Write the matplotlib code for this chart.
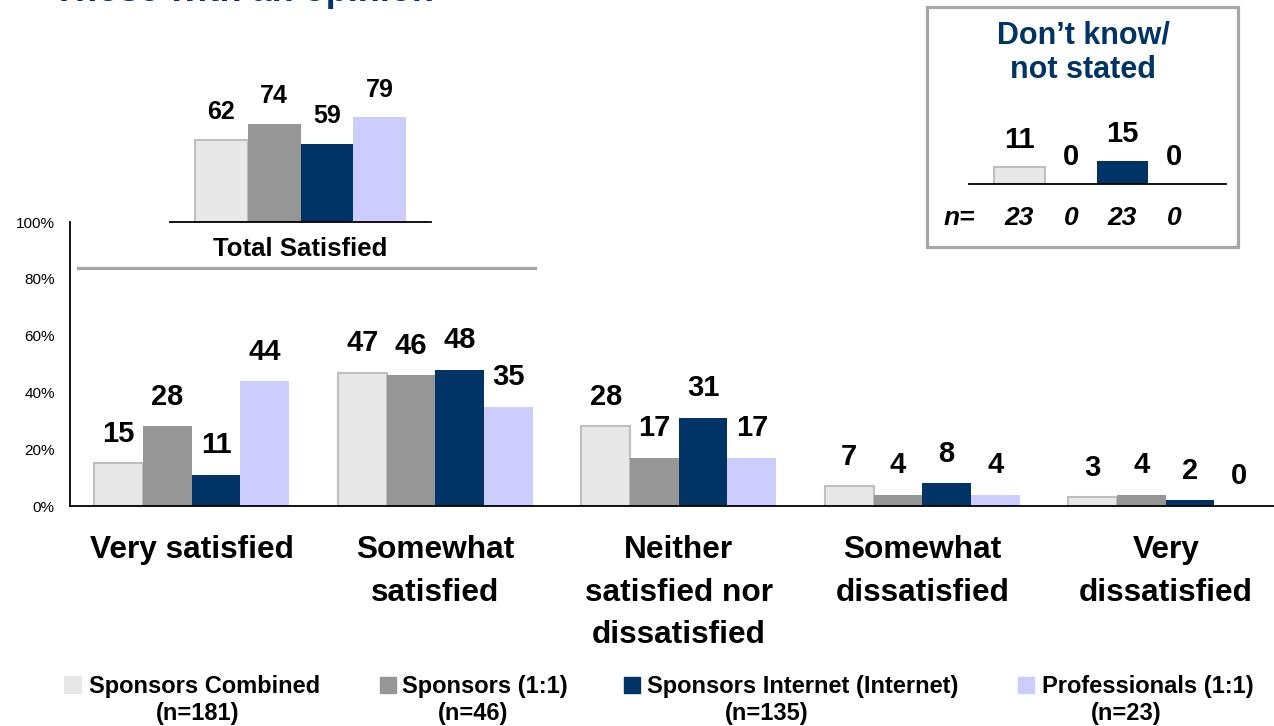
import matplotlib
matplotlib.use('Agg')
import matplotlib.pyplot as plt
from matplotlib.patches import Rectangle
from matplotlib.lines import Line2D
import numpy as np

plt.rcParams['font.family'] = ['Liberation Sans', 'DejaVu Sans']

W, H = 1274, 726

categories = ['Very satisfied', 'Somewhat\nsatisfied', 'Neither\nsatisfied nor\ndissatisfied',
              'Somewhat\ndissatisfied', 'Very\ndissatisfied']
series = ['Sponsors Combined', 'Sponsors (1:1)', 'Sponsors Internet (Internet)', 'Professionals (1:1)']
sample_sizes = ['(n=181)', '(n=46)', '(n=135)', '(n=23)']
colors = ['#E8E8E8', '#969696', '#003366', '#CCCCFF']

combined = [15, 47, 28, 7, 3]
sponsors_11 = [28, 46, 17, 4, 4]
sponsors_web = [11, 48, 31, 8, 2]
professionals = [44, 35, 17, 4, 0]

total_satisfied = [62, 74, 59, 79]
dont_know = [11, 0, 15, 0]
dont_know_n = ['23', '0', '23', '0']

NAVY = '#003366'
GREY_EDGE = '#BFBFBF'
FRAME = '#A6A6A6'


def fbox(x0, y0, x1, y1):
    # pixel box (top-left origin) -> figure fraction rect
    return [x0 / W, 1 - y1 / H, (x1 - x0) / W, (y1 - y0) / H]


def fx(x):
    return x / W


def fy(y):
    return 1 - y / H


def bar_style(i):
    if i == 0:
        return dict(color=colors[0], edgecolor=GREY_EDGE, linewidth=1.5)
    return dict(color=colors[i], edgecolor='none')


fig = plt.figure(figsize=(W / 100, H / 100), dpi=100)

# main grouped bars
ax = fig.add_axes(fbox(70, 222, 1287.5, 506))
x = np.arange(len(categories))
width = 0.2
for i, vals in enumerate([combined, sponsors_11, sponsors_web, professionals]):
    pos = x + (i - 1.5) * width
    ax.bar(pos, vals, width, **bar_style(i))
    for p, v in zip(pos, vals):
        ax.annotate(str(v), (p, v), xytext=(0, 15.5), textcoords='offset points',
                    ha='center', va='baseline', fontsize=21, fontweight='bold')

ax.set_xlim(-0.5, len(categories) - 0.5)
ax.set_ylim(0, 100)
ax.set_yticks(range(0, 101, 20), [f'{v}%' for v in range(0, 101, 20)], fontsize=11)
ax.set_xticks(x, categories, fontsize=22.8, fontweight='bold', linespacing=1.55)
ax.tick_params(axis='x', length=0, pad=21)
ax.tick_params(axis='y', length=0, pad=11)
for s in ['top', 'right']:
    ax.spines[s].set_visible(False)
for s in ['left', 'bottom']:
    ax.spines[s].set_linewidth(1.3)
ax.patch.set_alpha(0)

# total satisfied inset
ax_tot = fig.add_axes(fbox(170, 70, 431, 222))
tx = np.arange(4) - 1.5
for i, (p, v) in enumerate(zip(tx, total_satisfied)):
    ax_tot.bar(p, v, 1.0, **bar_style(i))
    ax_tot.annotate(str(v), (p, v), xytext=(0, 14.5), textcoords='offset points',
                    ha='center', va='baseline', fontsize=18, fontweight='bold')
ax_tot.set_xlim(-2.474, 2.474)
ax_tot.set_ylim(0, 114.3)
ax_tot.set_xticks([])
ax_tot.set_yticks([])
for s in ['top', 'right', 'left']:
    ax_tot.spines[s].set_visible(False)
ax_tot.spines['bottom'].set_linewidth(1.3)
ax_tot.patch.set_alpha(0)
fig.text(fx(300.5), fy(256), 'Total Satisfied', ha='center', va='baseline',
         fontsize=18.5, fontweight='bold')
fig.add_artist(Line2D([fx(78), fx(535)], [fy(268), fy(268)], color=FRAME, linewidth=2.3))

# don't know / not stated box
fig.add_artist(Rectangle((fx(927), fy(247)), (1238 - 927) / W, (247 - 7) / H,
                         fill=False, edgecolor=FRAME, linewidth=2.3,
                         transform=fig.transFigure))
fig.text(fx(1083), fy(43), 'Don\u2019t know/', ha='center', va='baseline',
         fontsize=22, fontweight='bold', color=NAVY)
fig.text(fx(1083), fy(78), 'not stated', ha='center', va='baseline',
         fontsize=22, fontweight='bold', color=NAVY)

ax_dk = fig.add_axes(fbox(969, 122.4, 1226, 184))
for i, (p, v) in enumerate(zip(tx, dont_know)):
    ax_dk.bar(p, v, 1.0, **bar_style(i))
    ax_dk.annotate(str(v), (p, v), xytext=(0, 13.7), textcoords='offset points',
                   ha='center', va='baseline', fontsize=21, fontweight='bold')
    ax_dk.annotate(dont_know_n[i], (p, 0), xytext=(0, -29.5), textcoords='offset points',
                   ha='center', va='baseline', fontsize=19, fontweight='bold',
                   fontstyle='italic', annotation_clip=False)
ax_dk.set_xlim(-2.48, 2.51)
ax_dk.set_ylim(0, 40)
ax_dk.set_xticks([])
ax_dk.set_yticks([])
for s in ['top', 'right', 'left']:
    ax_dk.spines[s].set_visible(False)
ax_dk.spines['bottom'].set_linewidth(1.3)
ax_dk.patch.set_alpha(0)
fig.text(fx(959), fy(225), 'n=', ha='center', va='baseline', fontsize=19,
         fontweight='bold', fontstyle='italic')

# legend
marker_x = [65, 380, 624, 1018]
text_x = [89, 402, 647, 1042]
n_x = [198, 473, 767, 1126]
for i in range(4):
    fig.add_artist(Rectangle((fx(marker_x[i]), fy(693)), 16 / W, 16 / H,
                             transform=fig.transFigure, **bar_style(i)))
    fig.text(fx(text_x[i]), fy(693), series[i], ha='left', va='baseline',
             fontsize=17, fontweight='bold')
    fig.text(fx(n_x[i]), fy(720), sample_sizes[i], ha='center', va='baseline',
             fontsize=17, fontweight='bold')

# heading, mostly above the top edge
fig.text(fx(53), fy(1), 'Those with an opinion', ha='left', va='baseline',
         fontsize=26, fontweight='bold', color=NAVY)

fig.savefig('out.png', dpi=100)
